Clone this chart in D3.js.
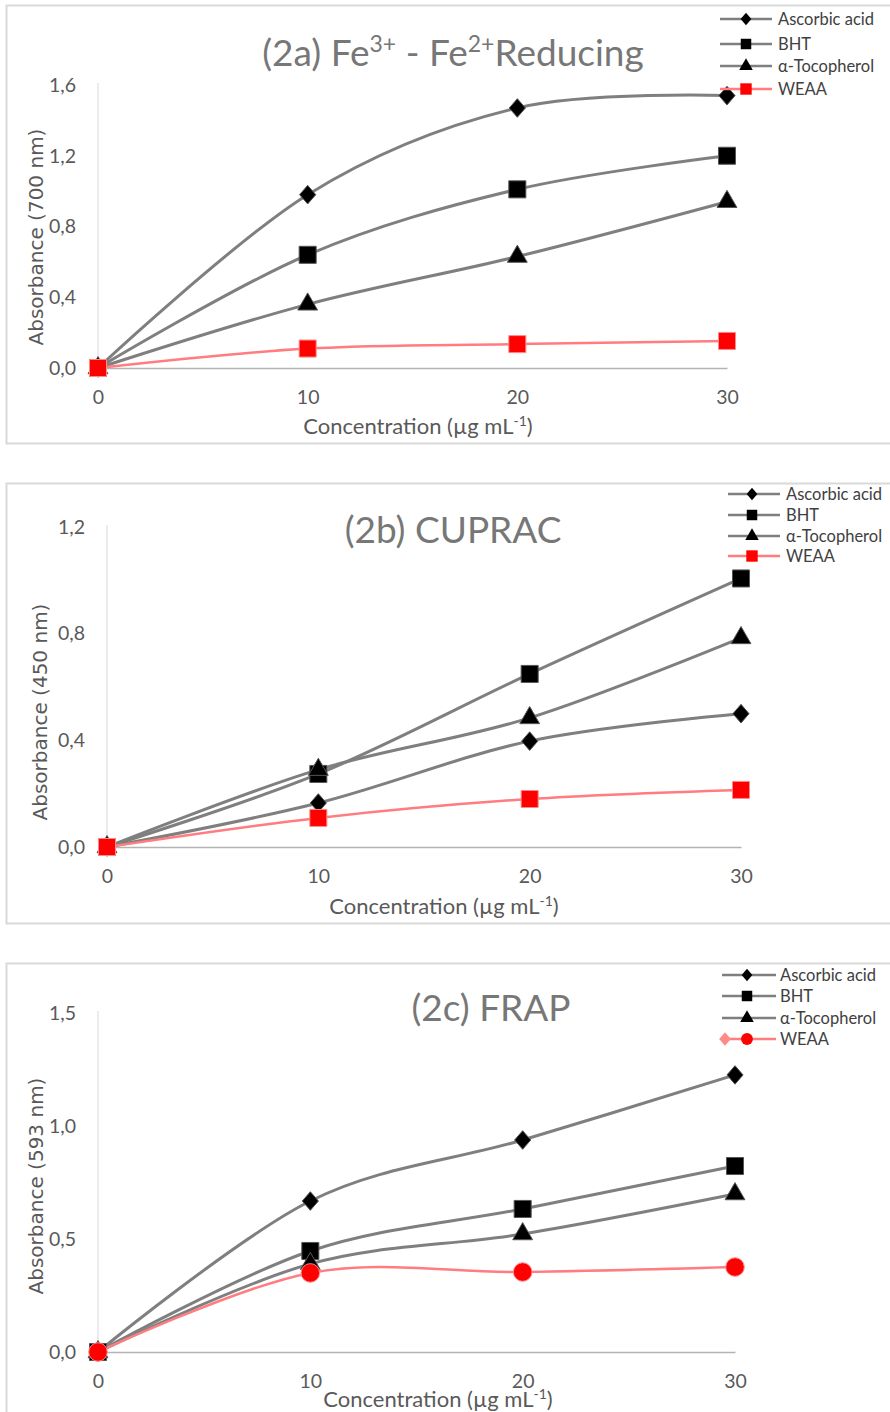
<!DOCTYPE html>
<html>
<head>
<meta charset="utf-8">
<script src="https://cdn.jsdelivr.net/npm/d3@7"></script>
<style>
  body { margin: 0; background: #fff; }
  svg { display: block; }
  .tick text { fill: #595959; font-family: Lato, "Open Sans", sans-serif; font-size: 19.5px; }
</style>
</head>
<body>
<script>
    // shared values
    var conc = [0, 10, 20, 30];
    var seriesNames = ["Ascorbic acid", "BHT", "\u03b1-Tocopherol", "WEAA"];

    // (2a) Fe3+ - Fe2+ reducing, absorbance 700 nm
    var feAscorbic = [0, 0.98, 1.47, 1.54];
    var feBHT = [0, 0.64, 1.01, 1.20];
    var feToco = [0, 0.36, 0.63, 0.94];
    var feWEAA = [0, 0.11, 0.135, 0.153];
    var feTicks = [0, 0.4, 0.8, 1.2, 1.6];

    // (2b) CUPRAC, absorbance 450 nm
    var cuAscorbic = [0, 0.165, 0.397, 0.50];
    var cuBHT = [0, 0.274, 0.649, 1.007];
    var cuToco = [0, 0.29, 0.484, 0.784];
    var cuWEAA = [0, 0.109, 0.18, 0.214];
    var cuTicks = [0, 0.4, 0.8, 1.2];

    // (2c) FRAP, absorbance 593 nm
    var frAscorbic = [0, 0.668, 0.938, 1.226];
    var frBHT = [0, 0.447, 0.633, 0.823];
    var frToco = [0, 0.39, 0.522, 0.699];
    var frWEAA = [0, 0.35, 0.354, 0.376];
    var frTicks = [0, 0.5, 1.0, 1.5];

    var svg = d3.select("body").append("svg")
      .attr("width", 890)
      .attr("height", 1412);

    var commaFmt = function(d) { return d3.format(".1f")(d).replace(".", ","); };
    var calibri = "Lato, 'Open Sans', sans-serif";

    var panels = [
      { title: "fe", series: [feAscorbic, feBHT, feToco, feWEAA], ticks: feTicks, yMax: 1.6,
        frameY: 5, frameH: 438, x0: 98, x1: 727, yTop: 85, yBottom: 368,
        titleX: 453, titleY: 53, legY: [19, 44, 66, 89], legX: [720, 772], legM: 746, legT: 778,
        xtX: 418, xtY: 426, ytX: 36, ytY: 237, ytText: "Absorbance (700 nm)", weaa: "square" },
      { title: "(2b) CUPRAC", series: [cuAscorbic, cuBHT, cuToco, cuWEAA], ticks: cuTicks, yMax: 1.2,
        frameY: 483, frameH: 440, x0: 107, x1: 741, yTop: 527, yBottom: 847,
        titleX: 453, titleY: 530, legY: [494, 515, 536, 556], legX: [728, 780], legM: 752, legT: 786,
        xtX: 444, xtY: 906, ytX: 40, ytY: 712, ytText: "Absorbance (450 nm)", weaa: "square" },
      { title: "(2c) FRAP", series: [frAscorbic, frBHT, frToco, frWEAA], ticks: frTicks, yMax: 1.5,
        frameY: 963, frameH: 460, x0: 98, x1: 735, yTop: 1013, yBottom: 1352,
        titleX: 491, titleY: 1008, legY: [975, 996, 1018, 1039], legX: [722, 776], legM: 747, legT: 780,
        xtX: 438, xtY: 1399, ytX: 36, ytY: 1186, ytText: "Absorbance (593 nm)", weaa: "circle" }
    ];

    // wider diamond than d3's, closer to the spreadsheet marker
    var wideDiamond = {
      draw: function(context, size) {
        var w = Math.sqrt(size) * 0.62, h = w * 1.15;
        context.moveTo(0, -h);
        context.lineTo(w, 0);
        context.lineTo(0, h);
        context.lineTo(-w, 0);
        context.closePath();
      }
    };

    var symbolTypes = [wideDiamond, d3.symbolSquare, d3.symbolTriangle];

    function drawPanel(p) {
      var g = svg.append("g");

      //frame
      g.append("rect")
        .attr("x", 6.5).attr("y", p.frameY + 0.5)
        .attr("width", 900).attr("height", p.frameH)
        .attr("fill", "none").attr("stroke", "#d9d9d9").attr("stroke-width", 2);

      var x = d3.scaleLinear().domain([0, 30]).range([p.x0, p.x1]);
      var y = d3.scaleLinear().domain([0, p.yMax]).range([p.yBottom, p.yTop]);

      //y axis
      var ya = g.append("g")
        .attr("transform", "translate(" + p.x0 + ",0)")
        .call(d3.axisLeft(y).tickValues(p.ticks).tickFormat(commaFmt).tickSize(0).tickPadding(22));
      ya.select(".domain").attr("stroke", "#d9d9d9").attr("d", "M0," + (p.yTop - 2) + "V" + p.yBottom);

      //x axis
      var xa = g.append("g")
        .attr("transform", "translate(0," + p.yBottom + ")")
        .call(d3.axisBottom(x).tickValues(conc).tickFormat(d3.format("d")).tickSize(0).tickPadding(22));
      xa.select(".domain").attr("stroke", "#b3b3b3").attr("stroke-width", 1.5);
      g.selectAll(".tick text").attr("font-family", null).attr("font-size", null);

      //title
      var t = g.append("text")
        .attr("x", p.titleX).attr("y", p.titleY).attr("dy", "0.35em")
        .attr("text-anchor", "middle")
        .attr("fill", "#777").attr("font-family", calibri).attr("font-size", 37);
      if (p.title == "fe") {
        t.append("tspan").text("(2a) Fe");
        t.append("tspan").attr("baseline-shift", "super").attr("font-size", 23).text("3+");
        t.append("tspan").text(" - Fe");
        t.append("tspan").attr("baseline-shift", "super").attr("font-size", 23).text("2+");
        t.append("tspan").text("Reducing");
      } else {
        t.text(p.title);
      }

      //axis titles
      var xt = g.append("text")
        .attr("x", p.xtX).attr("y", p.xtY).attr("dy", "0.35em")
        .attr("text-anchor", "middle")
        .attr("fill", "#595959").attr("font-family", calibri).attr("font-size", 22);
      xt.append("tspan").text("Concentration (\u00b5g mL");
      xt.append("tspan").attr("baseline-shift", "super").attr("font-size", 14).text("-1");
      xt.append("tspan").text(")");

      g.append("text")
        .attr("transform", "translate(" + p.ytX + "," + p.ytY + ") rotate(-90)")
        .attr("dy", "0.35em")
        .attr("text-anchor", "middle")
        .attr("fill", "#595959").attr("font-family", "'DejaVu Sans', Verdana, sans-serif").attr("font-size", 20)
        .text(p.ytText);

      var line = d3.line()
        .x(function(d, i) { return x(conc[i]); })
        .y(function(d) { return y(d); })
        .curve(d3.curveCatmullRom.alpha(0));

      //series lines
      p.series.forEach(function(s, k) {
        g.append("path")
          .datum(s)
          .attr("fill", "none")
          .attr("stroke", k == 3 ? "#ff7c80" : "#7f7f7f")
          .attr("stroke-width", k == 3 ? 2.5 : 3)
          .attr("d", line);
      });

      //markers
      p.series.forEach(function(s, k) {
        var sym;
        if (k < 3) sym = d3.symbol().type(symbolTypes[k]).size([170, 290, 170][k]);
        else sym = p.weaa == "circle" ? d3.symbol().type(d3.symbolCircle).size(270) : d3.symbol().type(d3.symbolSquare).size(290);
        g.selectAll(null)
          .data(s)
          .enter().append("path")
          .attr("transform", function(d, i) { return "translate(" + x(conc[i]) + "," + y(d) + ")"; })
          .attr("d", sym)
          .attr("fill", k == 3 ? "#ff0000" : "#000")
          .attr("stroke", k == 3 ? "#ff8a8a" : "#555")
          .attr("stroke-width", 1);
      });

      //legend
      seriesNames.forEach(function(name, k) {
        var ly = p.legY[k];
        g.append("line")
          .attr("x1", p.legX[0]).attr("x2", p.legX[1])
          .attr("y1", ly).attr("y2", ly)
          .attr("stroke", k == 3 ? "#ff7c80" : "#7f7f7f")
          .attr("stroke-width", 2.5);
        if (k == 3 && p.weaa == "circle") {
          g.append("path")
            .attr("transform", "translate(" + (p.legX[0] + 3) + "," + ly + ")")
            .attr("d", d3.symbol().type(wideDiamond).size(90))
            .attr("fill", "#ff8a8a");
        }
        var sym;
        if (k < 3) sym = d3.symbol().type(symbolTypes[k]).size([75, 110, 80][k]);
        else sym = p.weaa == "circle" ? d3.symbol().type(d3.symbolCircle).size(110) : d3.symbol().type(d3.symbolSquare).size(130);
        g.append("path")
          .attr("transform", "translate(" + p.legM + "," + ly + ")")
          .attr("d", sym)
          .attr("fill", k == 3 ? "#ff0000" : "#000");
        g.append("text")
          .attr("x", p.legT).attr("y", ly).attr("dy", "0.35em")
          .attr("fill", "#404040").attr("font-family", calibri).attr("font-size", 16.5)
          .text(name);
      });
    }

    panels.forEach(drawPanel);
</script>
</body>
</html>
